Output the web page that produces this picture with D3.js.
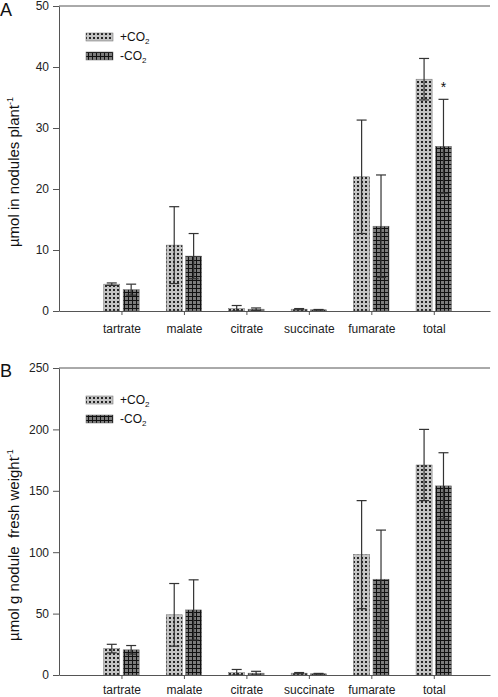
<!DOCTYPE html>
<html>
<head>
<meta charset="utf-8">
<script src="https://cdn.jsdelivr.net/npm/d3@7"></script>
<style>
  html, body { margin: 0; padding: 0; background: #fff; }
  svg { display: block; font-family: "Liberation Sans", Arial, sans-serif; }
  .ytitle { white-space: pre; }
</style>
</head>
<body>
<svg id="chart" width="498" height="697"></svg>
<script>
const categories = ["tartrate", "malate", "citrate", "succinate", "fumarate", "total"];
const seriesNames = ["+CO", "-CO"];

// Panel A: µmol in nodules plant-1
const plusA = [4.4, 10.8, 0.4, 0.3, 22.0, 38.0];
const plusAErr = [0.2, 6.3, 0.5, 0.1, 9.3, 3.4];
const minusA = [3.5, 9.0, 0.3, 0.2, 13.9, 27.0];
const minusAErr = [0.9, 3.7, 0.2, 0.05, 8.4, 7.7];
const ticksA = [0, 10, 20, 30, 40, 50];

// Panel B: µmol g nodule fresh weight-1
const plusB = [21.5, 49, 2.0, 1.5, 98, 171];
const plusBErr = [3.5, 25.5, 2.5, 0.5, 44, 29];
const minusB = [20.5, 53, 1.5, 1.0, 78, 154];
const minusBErr = [3.5, 24.5, 1.5, 0.3, 40, 27];
const ticksB = [0, 50, 100, 150, 200, 250];

const svg = d3.select("#chart");
const defs = svg.append("defs");

// pattern: +CO2 (light gray with dark dots)
const pPlus = defs.append("pattern").attr("id", "patPlus")
  .attr("patternUnits", "userSpaceOnUse").attr("width", 4).attr("height", 4);
pPlus.append("rect").attr("width", 4).attr("height", 4).attr("fill", "#c4c4c4");
pPlus.append("rect").attr("x", 1).attr("y", 1).attr("width", 2).attr("height", 2).attr("fill", "#262626");

// pattern: -CO2 (dark gray with black grid)
const pMinus = defs.append("pattern").attr("id", "patMinus")
  .attr("patternUnits", "userSpaceOnUse").attr("width", 4).attr("height", 4);
pMinus.append("rect").attr("width", 4).attr("height", 4).attr("fill", "#7c7c7c");
pMinus.append("rect").attr("x", 0).attr("y", 0).attr("width", 4).attr("height", 1).attr("fill", "#111");
pMinus.append("rect").attr("x", 0).attr("y", 0).attr("width", 1).attr("height", 4).attr("fill", "#111");

const fills = ["url(#patPlus)", "url(#patMinus)"];

const left = 59, right = 490;
const x = d3.scaleLinear().domain([0, 6.9]).range([left, right]);
const barW = 16, barGap = 1.7;

function panel(opts) {
  const { top, bottom, max, ticks, plus, plusErr, minus, minusErr, label, labelY, title, titleY, legendY, star, pad } = opts;
  const y = d3.scaleLinear().domain([0, max]).range([bottom, top]);
  const g = svg.append("g");

  // frame: top line
  g.append("line").attr("x1", left).attr("x2", right).attr("y1", top).attr("y2", top)
    .attr("stroke", "#555").attr("stroke-width", 1);

  // bars
  const data = [];
  categories.forEach((c, i) => {
    data.push({ c, i, s: 0, v: plus[i], e: plusErr[i] });
    data.push({ c, i, s: 1, v: minus[i], e: minusErr[i] });
  });
  const bx = d => d.s === 0 ? x(d.i + 1) - barGap - barW : x(d.i + 1) + barGap;
  g.selectAll("rect.bar").data(data).join("rect").attr("class", "bar")
    .attr("x", bx).attr("width", barW)
    .attr("y", d => y(d.v)).attr("height", d => y(0) - y(d.v))
    .attr("fill", d => fills[d.s]).attr("stroke", "#666").attr("stroke-width", 0.5);

  // error bars
  const eg = g.selectAll("g.err").data(data).join("g").attr("class", "err")
    .attr("stroke", "#333").attr("stroke-width", 1.2);
  eg.append("line")
    .attr("x1", d => bx(d) + barW / 2).attr("x2", d => bx(d) + barW / 2)
    .attr("y1", d => y(Math.max(0, d.v - d.e))).attr("y2", d => y(d.v + d.e));
  eg.append("line")
    .attr("x1", d => bx(d) + barW / 2 - 5).attr("x2", d => bx(d) + barW / 2 + 5)
    .attr("y1", d => y(d.v + d.e)).attr("y2", d => y(d.v + d.e));
  eg.append("line")
    .attr("x1", d => bx(d) + barW / 2 - 5).attr("x2", d => bx(d) + barW / 2 + 5)
    .attr("y1", d => y(Math.max(0, d.v - d.e))).attr("y2", d => y(Math.max(0, d.v - d.e)));

  // y axis
  const ya = g.append("g").attr("transform", `translate(${left},0)`)
    .call(d3.axisLeft(y).tickValues(ticks).tickSize(6).tickPadding(4).tickSizeOuter(0));
  ya.select(".domain").attr("stroke", "#555");
  ya.selectAll(".tick line").attr("stroke", "#555");
  ya.selectAll("text").attr("font-size", 12).attr("fill", "#222")
    .attr("font-family", "Liberation Sans, Arial, sans-serif");

  // x axis
  const xa = g.append("g").attr("transform", `translate(0,${bottom})`)
    .call(d3.axisBottom(x).tickValues(categories.map((c, i) => i + 1))
      .tickFormat((d) => categories[d - 1]).tickSize(4).tickPadding(pad).tickSizeOuter(0));
  xa.select(".domain").attr("stroke", "#555");
  xa.selectAll(".tick line").attr("stroke", "#555");
  xa.selectAll("text").attr("font-size", 12).attr("fill", "#222")
    .attr("font-family", "Liberation Sans, Arial, sans-serif");

  // panel letter
  svg.append("text").attr("x", 0).attr("y", labelY).attr("font-size", 18)
    .attr("fill", "#111").text(label);

  // y title
  const t = svg.append("text").attr("class", "ytitle")
    .attr("transform", `translate(19,${titleY}) rotate(-90)`)
    .attr("text-anchor", "middle").attr("font-size", 15).attr("fill", "#111");
  t.append("tspan").text(title);
  t.append("tspan").attr("font-size", 9).attr("dy", -6).text("-1");

  // legend
  seriesNames.forEach((s, k) => {
    const ly = legendY + k * 19;
    svg.append("rect").attr("x", 86).attr("y", ly).attr("width", 27).attr("height", 8)
      .attr("fill", fills[k]).attr("stroke", "#666").attr("stroke-width", 0.5);
    const lt = svg.append("text").attr("x", 120).attr("y", ly + 8).attr("font-size", 12).attr("fill", "#111");
    lt.append("tspan").text(s);
    lt.append("tspan").attr("font-size", 8).attr("dy", 3).text("2");
  });

  if (star !== undefined) {
    const d = data.find(dd => dd.i === star && dd.s === 1);
    svg.append("text").attr("x", bx(d) + barW / 2).attr("y", y(d.v + d.e) - 7)
      .attr("text-anchor", "middle").attr("font-size", 14).attr("fill", "#111").text("*");
  }
}

panel({ top: 6, bottom: 311, max: 50, ticks: ticksA, plus: plusA, plusErr: plusAErr,
  minus: minusA, minusErr: minusAErr, label: "A", labelY: 16, pad: 9,
  title: "µmol in nodules plant", titleY: 172, legendY: 33, star: 5 });

panel({ top: 368, bottom: 675, max: 250, ticks: ticksB, plus: plusB, plusErr: plusBErr,
  minus: minusB, minusErr: minusBErr, label: "B", labelY: 377, pad: 6,
  title: "µmol g nodule  fresh weight", titleY: 545, legendY: 396 });
</script>
</body>
</html>
